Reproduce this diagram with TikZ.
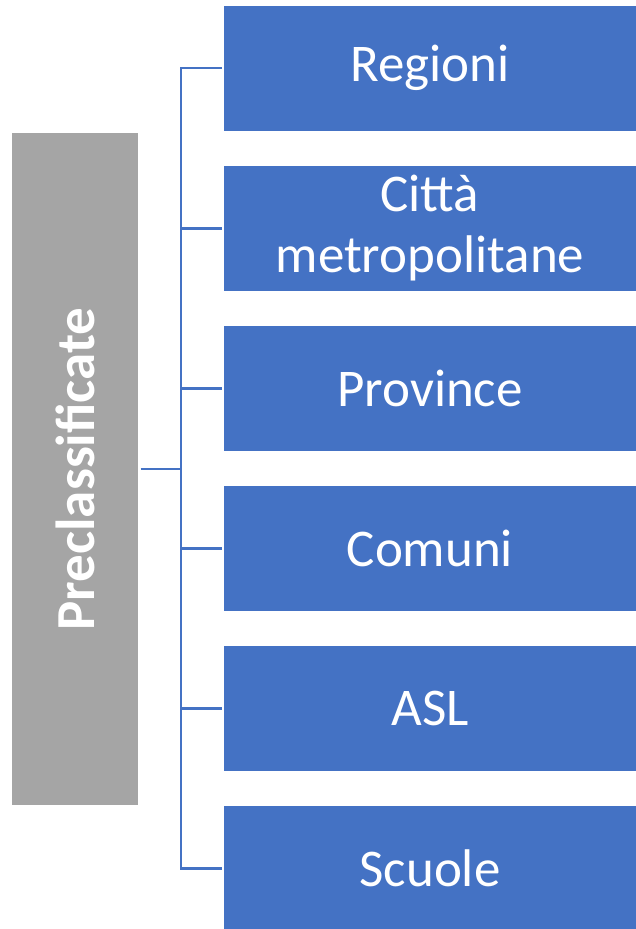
\documentclass[tikz,border=0pt]{standalone}
\usepackage{fontspec}
\setmainfont{Carlito}
\definecolor{catblue}{HTML}{4472C4}
\definecolor{rootgray}{HTML}{A5A5A5}

\begin{document}
\begin{tikzpicture}[x=1pt,y=-1pt,
	catbox/.style={fill=catblue,text=white,inner sep=0pt,
		minimum width=412pt,minimum height=125pt,align=center,
		font=\fontsize{53}{61}\selectfont},
	rootbox/.style={fill=rootgray,text=white,inner sep=0pt,rotate=90,
		minimum width=672pt,minimum height=126pt,
		font=\fontsize{55}{60}\selectfont\bfseries},
	link/.style={draw=catblue,line width=2.5pt}]
	\useasboundingbox (0,0) rectangle (636,929);
	%Root at the left
	\node [rootbox] (root) at (75,469) {Preclassificate};
	%Categories at the right
	\node [catbox] (b1) at (430,68) {Regioni};
	\node [catbox] (b2) at (430,228.5) {Città\\metropolitane};
	\node [catbox] (b3) at (430,388.5) {Province};
	\node [catbox] (b4) at (430,548.5) {Comuni};
	\node [catbox] (b5) at (430,708.5) {ASL};
	\node [catbox] (b6) at (430,868.5) {Scuole};
	%Bracket
	\coordinate (bend) at (181,469);
	\draw [link,shorten <=2.5pt] (root.south) -- (bend);
	\draw [link] ([xshift=-2pt]b1.west) -| (bend) |- ([xshift=-2pt]b6.west);
	\foreach \i in {2,...,5}
		\draw [link] (bend |- b\i.west) -- ([xshift=-2pt]b\i.west);
\end{tikzpicture}
\end{document}
